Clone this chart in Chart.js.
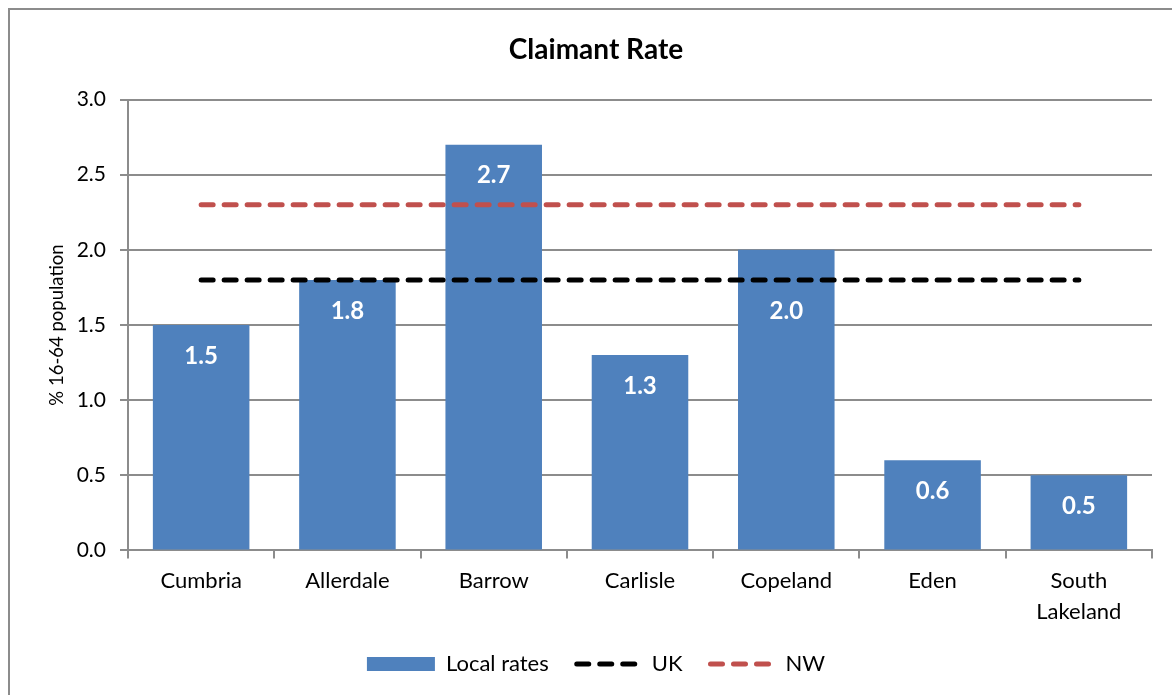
<!DOCTYPE html>
<html>
<head>
<meta charset="utf-8">
<script src="https://cdn.jsdelivr.net/npm/chart.js@4"></script>
<style>
    html, body { margin: 0; padding: 0; background: #fff; overflow: hidden; }
    #wrap { position: absolute; left: 0; top: 0; width: 1172px; height: 695px; }
    #frame { position: absolute; left: 8px; top: 8px; width: 1200px; height: 800px; border: 2px solid #8c8c8c; box-sizing: border-box; }
    #claimant_graph { position: absolute; left: 0; top: 0; }
</style>
</head>
<body>
<div id="wrap">
    <div id="frame"></div>
    <canvas id="claimant_graph" width="1172" height="695"></canvas>
</div>
<script>
// Data
const categories = ['Cumbria', 'Allerdale', 'Barrow', 'Carlisle', 'Copeland', 'Eden', ['South', 'Lakeland']];
const localRates = [1.5, 1.8, 2.7, 1.3, 2.0, 0.6, 0.5];
const ukRate = [1.8, 1.8, 1.8, 1.8, 1.8, 1.8, 1.8];
const nwRate = [2.3, 2.3, 2.3, 2.3, 2.3, 2.3, 2.3];
const yTicks = ['0.0', '0.5', '1.0', '1.5', '2.0', '2.5', '3.0'];

const FONT = 'Lato, "Open Sans", sans-serif';
const DASH = [12, 11];

// label distance below bar top (Copeland's label sits lower, under the UK line)
const labelOffsets = [31, 31, 31, 31, 61, 31, 31];

// White labels inside the bars + dashed legend samples
const extras = {
    id: 'extras'
    ,afterDatasetsDraw(chart)
    {
        const ctx = chart.ctx;
        const meta = chart.getDatasetMeta(0);
        ctx.save();
        ctx.fillStyle = '#ffffff';
        ctx.font = 'bold 24px ' + FONT;
        ctx.textAlign = 'center';
        ctx.textBaseline = 'middle';
        meta.data.forEach((bar, i) =>
        {
            ctx.fillText(localRates[i].toFixed(1), bar.x, bar.y + labelOffsets[i]);
        });
        ctx.restore();
    }
    ,afterDraw(chart)
    {
        const ctx = chart.ctx;
        const legend = chart.legend;
        ctx.save();
        legend.legendItems.forEach((item, i) =>
        {
            if(item.datasetIndex === 0) return;
            const box = legend.legendHitBoxes[i];
            const ds = chart.data.datasets[item.datasetIndex];
            const y = Math.round(box.top + box.height / 2);
            ctx.strokeStyle = ds.borderColor;
            ctx.lineWidth = ds.borderWidth;
            ctx.lineCap = 'round';
            ctx.setLineDash(DASH);
            ctx.beginPath();
            ctx.moveTo(box.left + 4, y);
            ctx.lineTo(box.left + 66, y);
            ctx.stroke();
        });
        ctx.restore();
    }
};

const createChart = () =>
{
    const ctx = document.getElementById('claimant_graph');

    new Chart(ctx,
    {
        type: 'bar'
        ,data: {
            labels: categories
            ,datasets:
            [
                {
                    label: 'Local rates'
                    ,data: localRates
                    ,backgroundColor: '#4f81bd'
                    ,borderWidth: 0
                    ,barPercentage: 0.66
                    ,categoryPercentage: 1
                    ,pointStyle: 'rect'
                    ,order: 3
                }
                ,{
                    type: 'line'
                    ,label: 'UK'
                    ,data: ukRate
                    ,borderColor: '#000000'
                    ,backgroundColor: '#000000'
                    ,borderWidth: 5
                    ,borderDash: DASH
                    ,borderCapStyle: 'round'
                    ,pointRadius: 0
                    ,pointStyle: 'line'
                    ,fill: false
                    ,order: 2
                }
                ,{
                    type: 'line'
                    ,label: 'NW'
                    ,data: nwRate
                    ,borderColor: '#c0504d'
                    ,backgroundColor: '#c0504d'
                    ,borderWidth: 5
                    ,borderDash: DASH
                    ,borderCapStyle: 'round'
                    ,pointRadius: 0
                    ,pointStyle: 'line'
                    ,fill: false
                    ,order: 1
                }
            ]
        }
        ,options:
        {
            responsive: false
            ,animation: false
            ,devicePixelRatio: 1
            ,layout: {padding: {left: 40, right: 20, top: 10, bottom: 10}}
            ,plugins:
            {
                title: {
                    display: true
                    ,text: 'Claimant Rate'
                    ,color: '#000'
                    ,font: {family: FONT, size: 28, weight: 'bold'}
                    ,padding: {top: 23, bottom: 33}
                }
                ,legend: {
                    position: 'bottom'
                    ,labels: {
                        usePointStyle: true
                        ,pointStyleWidth: 68
                        ,boxHeight: 14
                        ,padding: 24
                        ,color: '#000'
                        ,font: {family: FONT, size: 22}
                        ,sort: (a, b) => a.datasetIndex - b.datasetIndex
                        ,generateLabels: (chart) =>
                        {
                            const items = Chart.defaults.plugins.legend.labels.generateLabels(chart);
                            items.forEach((it) =>
                            {
                                if(it.datasetIndex > 0)
                                {
                                    it.strokeStyle = 'rgba(0,0,0,0)';
                                    it.fillStyle = 'rgba(0,0,0,0)';
                                }
                            });
                            return items;
                        }
                    }
                }
                ,tooltip: {enabled: false}
            }
            ,scales:
            {
                x: {
                    grid: {drawOnChartArea: false, drawTicks: true, tickLength: 8, color: '#8c8c8c', lineWidth: 2, offset: true}
                    ,border: {display: true, color: '#8c8c8c', width: 2}
                    ,ticks: {color: '#000', padding: 7, maxRotation: 0, font: {family: FONT, size: 22, lineHeight: '31px'}}
                    ,afterFit: (scale) => { scale.height = 78.6; }
                }
                ,y: {
                    min: 0
                    ,max: 3
                    ,grid: {color: '#8c8c8c', lineWidth: 2, tickLength: 8}
                    ,border: {display: true, color: '#8c8c8c', width: 2}
                    ,ticks: {
                        stepSize: 0.5
                        ,color: '#000'
                        ,padding: 14
                        ,font: {family: FONT, size: 21}
                        ,callback: (value) => yTicks[Math.round(value * 2)]
                    }
                    ,title: {
                        display: true
                        ,text: '% 16-64 population'
                        ,color: '#000'
                        ,font: {family: FONT, size: 18.5}
                        ,padding: {top: 6, bottom: 0}
                    }
                    ,afterFit: (scale) => { scale.width = 88; }
                }
            }
        }
        ,plugins: [extras]
    });
};
createChart();
</script>
</body>
</html>
